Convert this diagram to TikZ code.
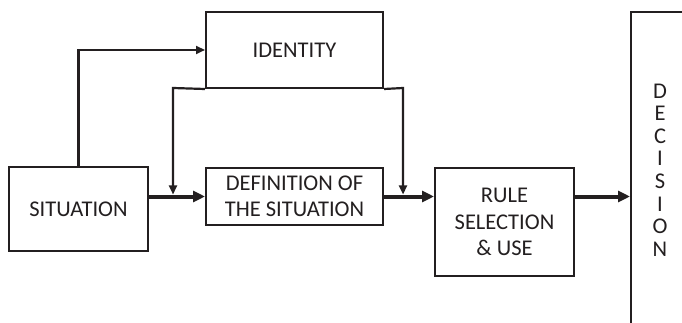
\documentclass[tikz,border=0pt]{standalone}
\usepackage{fontspec}
\setmainfont{Carlito}
\usetikzlibrary{arrows.meta}
\definecolor{ink}{HTML}{231F20}
\begin{document}
\begin{tikzpicture}[x=1pt,y=-1pt,
  box/.style={draw=ink, line width=2pt, inner sep=0pt, align=center,
    font=\fontsize{22.5}{26.5}\selectfont, text=ink},
  thinarrow/.style={draw=ink, line width=2.2pt, -{Triangle[length=9pt,width=8pt]}},
  thickarrow/.style={draw=ink, line width=4pt, -{Triangle[length=12pt,width=11pt]}},
]
\useasboundingbox (0,0) rectangle (682,323);
\fill[white] (0,0) rectangle (682,323);
\node[box, minimum width=139pt, minimum height=84pt] (sit) at (78.5,209) {SITUATION};
\node[box, minimum width=177pt, minimum height=76pt] (id) at (294.5,50) {IDENTITY};
\node[box, minimum width=177pt, minimum height=57pt] (def) at (294.5,196.5) {DEFINITION OF\\THE SITUATION};
\node[box, minimum width=139pt, minimum height=108pt] (rule) at (504.5,222) {RULE\\SELECTION\\\& USE};
\begin{scope}
\clip (0,0) rectangle (682,323);
\node[box, minimum width=89pt, minimum height=348pt] (dec) at (675.5,186) {};
\end{scope}
\node[text=ink, align=center, inner sep=0pt, font=\fontsize{22.5}{22.6}\selectfont] (dectext) at (660,170) {D\\E\\C\\I\\S\\I\\O\\N};
\coordinate (fl) at (173,88);
\coordinate (fr) at (403,88);
\draw[thinarrow] (sit.north) |- (id.west);
\draw[thickarrow] (sit.east |- def.west) -- (def.west);
\draw[thinarrow, shorten >=2pt] (id.south west) -- (fl) -- (fl |- def.west);
\draw[thinarrow, shorten >=2pt] (id.south east) -- (fr) -- (fr |- def.east);
\draw[thickarrow] (def.east) -- (rule.west |- def.east);
\draw[thickarrow] (rule.east |- def.east) -- (dec.west |- def.east);
\end{tikzpicture}
\end{document}
